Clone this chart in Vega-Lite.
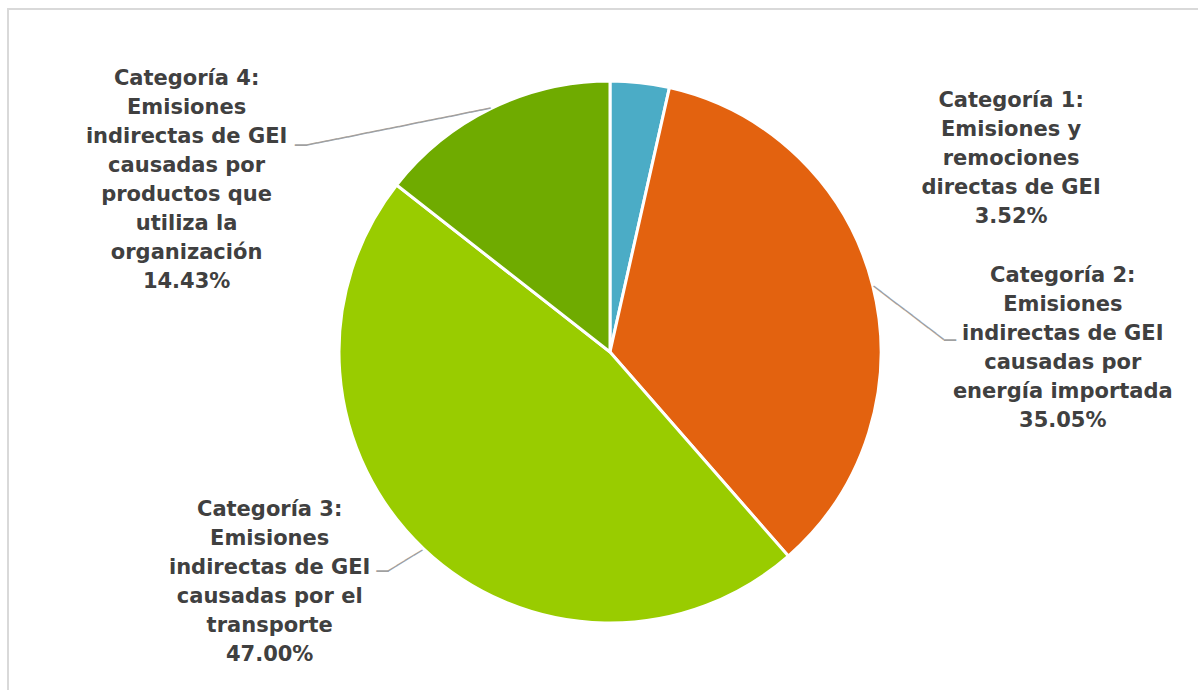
{
  "$schema": "https://vega.github.io/schema/vega-lite/v6.json",
  "autosize": "none",
  "width": 1204,
  "height": 686,
  "padding": {"left": 8, "top": 9, "right": 0, "bottom": 0},
  "background": "#ffffff",
  "config": {
    "view": {"stroke": null},
    "text": {"font": "DejaVu Sans", "fontWeight": "bold", "fontSize": 21, "lineHeight": 29, "color": "#404040", "lineBreak": "\n", "align": "center", "baseline": "middle"}
  },
  "data": {
    "values": [
      {"cat": "Categoría 1", "value": 3.52, "label": "Categoría 1:\nEmisiones y\nremociones\ndirectas de GEI\n3.52%"},
      {"cat": "Categoría 2", "value": 35.05, "label": "Categoría 2:\nEmisiones\nindirectas de GEI\ncausadas por\nenergía importada\n35.05%"},
      {"cat": "Categoría 3", "value": 47.00, "label": "Categoría 3:\nEmisiones\nindirectas de GEI\ncausadas por el\ntransporte\n47.00%"},
      {"cat": "Categoría 4", "value": 14.43, "label": "Categoría 4:\nEmisiones\nindirectas de GEI\ncausadas por\nproductos que\nutiliza la\norganización\n14.43%"}
    ]
  },
  "layer": [
    {
      "mark": {"type": "rect", "fill": null, "stroke": "#D9D9D9", "strokeWidth": 1.3},
      "encoding": {}
    },
    {
      "mark": {"type": "arc", "outerRadius": 271, "stroke": "#ffffff", "strokeWidth": 3},
      "encoding": {
        "theta": {"field": "value", "type": "quantitative", "stack": true},
        "order": {"field": "cat", "type": "ordinal", "sort": "ascending"},
        "color": {
          "field": "cat", "type": "nominal", "legend": null,
          "scale": {"domain": ["Categoría 1", "Categoría 2", "Categoría 3", "Categoría 4"], "range": ["#4BACC6", "#E3620F", "#99CC00", "#6FAB00"]}
        }
      }
    },
    {
      "mark": {"type": "text", "radius": 300, "angle": 348.63, "dx": -86.96, "dy": 28.61, "font": "DejaVu Sans", "fontWeight": "normal", "fontSize": 17.3, "fill": "#A0A0A0"},
      "encoding": {
        "theta": {"field": "value", "type": "quantitative", "stack": true},
        "order": {"field": "cat", "type": "ordinal", "sort": "ascending"},
        "detail": {"field": "cat"},
        "text": {"condition": {"test": "datum.cat === 'Categoría 4'", "value": "──────────────────"}, "value": ""}
      }
    },
    {
      "mark": {"type": "text", "radius": 300, "dx": -177.61, "dy": 63.7, "font": "DejaVu Sans", "fontWeight": "normal", "fontSize": 20, "fill": "#A0A0A0"},
      "encoding": {
        "theta": {"field": "value", "type": "quantitative", "stack": true},
        "order": {"field": "cat", "type": "ordinal", "sort": "ascending"},
        "detail": {"field": "cat"},
        "text": {"condition": {"test": "datum.cat === 'Categoría 4'", "value": "─"}, "value": ""}
      }
    },
    {
      "mark": {"type": "text", "radius": 300, "angle": 37.3, "dx": 27.24, "dy": 23.35, "font": "DejaVu Sans", "fontWeight": "normal", "fontSize": 16.3, "fill": "#A0A0A0"},
      "encoding": {
        "theta": {"field": "value", "type": "quantitative", "stack": true},
        "order": {"field": "cat", "type": "ordinal", "sort": "ascending"},
        "detail": {"field": "cat"},
        "text": {"condition": {"test": "datum.cat === 'Categoría 2'", "value": "─────────"}, "value": ""}
      }
    },
    {
      "mark": {"type": "text", "radius": 300, "dx": 49.22, "dy": 62.29, "font": "DejaVu Sans", "fontWeight": "normal", "fontSize": 20, "fill": "#A0A0A0"},
      "encoding": {
        "theta": {"field": "value", "type": "quantitative", "stack": true},
        "order": {"field": "cat", "type": "ordinal", "sort": "ascending"},
        "detail": {"field": "cat"},
        "text": {"condition": {"test": "datum.cat === 'Categoría 2'", "value": "─"}, "value": ""}
      }
    },
    {
      "mark": {"type": "text", "radius": 300, "angle": 328.6, "dx": 6.03, "dy": -6.37, "font": "DejaVu Sans", "fontWeight": "normal", "fontSize": 16.7, "fill": "#A0A0A0"},
      "encoding": {
        "theta": {"field": "value", "type": "quantitative", "stack": true},
        "order": {"field": "cat", "type": "ordinal", "sort": "ascending"},
        "detail": {"field": "cat"},
        "text": {"condition": {"test": "datum.cat === 'Categoría 3'", "value": "────"}, "value": ""}
      }
    },
    {
      "mark": {"type": "text", "radius": 300, "dx": -21.17, "dy": 1.72, "font": "DejaVu Sans", "fontWeight": "normal", "fontSize": 20, "fill": "#A0A0A0"},
      "encoding": {
        "theta": {"field": "value", "type": "quantitative", "stack": true},
        "order": {"field": "cat", "type": "ordinal", "sort": "ascending"},
        "detail": {"field": "cat"},
        "text": {"condition": {"test": "datum.cat === 'Categoría 3'", "value": "─"}, "value": ""}
      }
    },
    {
      "mark": {"type": "text", "radius": 300, "dx": 368, "dy": 47},
      "encoding": {
        "theta": {"field": "value", "type": "quantitative", "stack": true},
        "order": {"field": "cat", "type": "ordinal", "sort": "ascending"},
        "detail": {"field": "cat"},
        "text": {"condition": {"test": "datum.cat === 'Categoría 1'", "field": "label"}, "value": ""}
      }
    },
    {
      "mark": {"type": "text", "radius": 300, "dx": 162, "dy": -2},
      "encoding": {
        "theta": {"field": "value", "type": "quantitative", "stack": true},
        "order": {"field": "cat", "type": "ordinal", "sort": "ascending"},
        "detail": {"field": "cat"},
        "text": {"condition": {"test": "datum.cat === 'Categoría 2'", "field": "label"}, "value": ""}
      }
    },
    {
      "mark": {"type": "text", "radius": 300, "dx": -134, "dy": -60},
      "encoding": {
        "theta": {"field": "value", "type": "quantitative", "stack": true},
        "order": {"field": "cat", "type": "ordinal", "sort": "ascending"},
        "detail": {"field": "cat"},
        "text": {"condition": {"test": "datum.cat === 'Categoría 3'", "field": "label"}, "value": ""}
      }
    },
    {
      "mark": {"type": "text", "radius": 300, "dx": -292, "dy": -3},
      "encoding": {
        "theta": {"field": "value", "type": "quantitative", "stack": true},
        "order": {"field": "cat", "type": "ordinal", "sort": "ascending"},
        "detail": {"field": "cat"},
        "text": {"condition": {"test": "datum.cat === 'Categoría 4'", "field": "label"}, "value": ""}
      }
    }
  ]
}
